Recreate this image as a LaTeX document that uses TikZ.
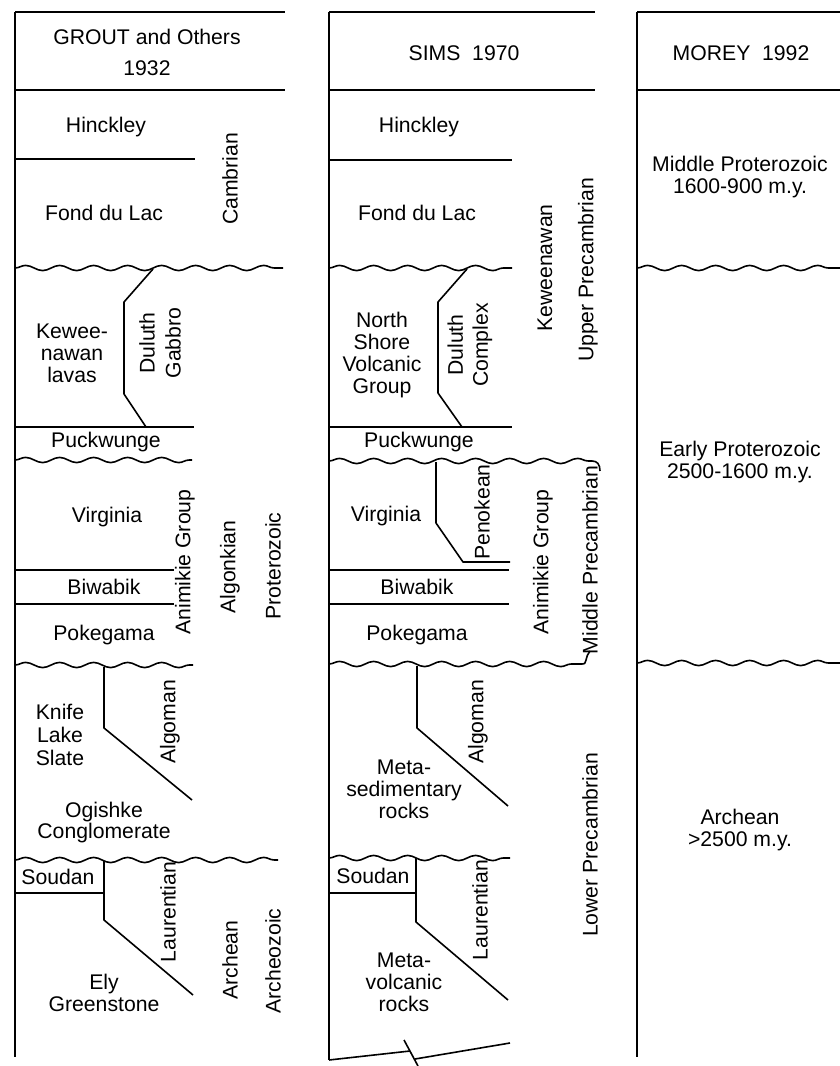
\documentclass[tikz,border=0pt]{standalone}
\usepackage{fontspec}
\setmainfont{Liberation Sans}
\usetikzlibrary{decorations.pathmorphing}
\begin{document}
\begin{tikzpicture}[x=0.5pt,y=-0.5pt,
  rule/.style={line width=0.8pt, line join=round},
  wave/.style={rule, decorate, decoration={snake, segment length=17pt, amplitude=1.3pt}},
  lbl/.style={inner sep=0pt, font=\fontsize{10.6pt}{11pt}\selectfont, align=center},
  vlbl/.style={lbl, rotate=90},
  hdr/.style={lbl, font=\fontsize{10.6pt}{15.5pt}\selectfont},
]
\useasboundingbox (0,0) rectangle (840,1066);

% ---------------- column 1 : GROUT and Others 1932
\draw[rule] (15,12) -- (285,12);
\draw[rule] (15,12) -- (15,1057);
\draw[rule] (15,90) -- (285,90);
\draw[rule] (15,159) -- (195,159);
\draw[wave] (15,268) -- (283,268);
\draw[rule] (153,269) -- (124,302) -- (124,394) -- (146,427);
\draw[rule] (15,427) -- (194,427);
\draw[wave] (15,460) -- (192,460);
\draw[rule] (15,570) -- (174,570);
\draw[rule] (15,604) -- (174,604);
\draw[wave] (15,665) -- (193,665);
\draw[rule] (104,667) -- (104,728) -- (192,800);
\draw[wave] (15,860) -- (278,860);
\draw[rule] (15,893) -- (104,893);
\draw[rule] (104,861) -- (104,920) -- (193,995);

\node[hdr] (g-hdr) at (147,52) {GROUT and Others\\1932};
\node[lbl] (g-hinckley) at (106,127) {Hinckley};
\node[lbl] (g-fond) at (104,213) {Fond du Lac};
\node[vlbl] (g-cambrian) at (230,179) {Cambrian};
\node[lbl] (g-kew) at (72,353) {Kewee-\\nawan\\lavas};
\node[vlbl, font=\fontsize{10.6pt}{13pt}\selectfont] (g-duluth) at (160,343) {Duluth\\Gabbro};
\node[lbl] (g-puck) at (106,442) {Puckwunge};
\node[lbl] (g-virginia) at (107,517) {Virginia};
\node[lbl] (g-biwabik) at (104,587) {Biwabik};
\node[lbl] (g-pokegama) at (104,635) {Pokegama};
\node[vlbl] (g-animikie) at (185,562) {Animikie Group};
\node[vlbl] (g-algonkian) at (230,567) {Algonkian};
\node[vlbl] (g-proterozoic) at (273,566) {Proterozoic};
\node[lbl, font=\fontsize{10.6pt}{11.5pt}\selectfont] (g-knife) at (60,735) {Knife\\Lake\\Slate};
\node[vlbl] (g-algoman) at (170,722) {Algoman};
\node[lbl, font=\fontsize{10.6pt}{10.5pt}\selectfont] (g-ogishke) at (104,823) {Ogishke\\Conglomerate};
\node[lbl] (g-soudan) at (58,877) {Soudan};
\node[vlbl] (g-laurentian) at (168,912) {Laurentian};
\node[lbl] (g-ely) at (104,993) {Ely\\Greenstone};
\node[vlbl] (g-archean) at (230,960) {Archean};
\node[vlbl] (g-archeozoic) at (273,961) {Archeozoic};

% ---------------- column 2 : SIMS 1970
\draw[rule] (329,12) -- (595,12);
\draw[rule] (329,12) -- (329,1060);
\draw[rule] (329,90) -- (595,90);
\draw[rule] (329,160) -- (512,160);
\draw[wave] (329,268) -- (512,268);
\draw[rule] (467,269) -- (438,302) -- (438,393) -- (462,427);
\draw[rule] (329,427) -- (512,427);
\draw[wave] (329,461) -- (592,461);
\draw[rule] (592,461) .. controls (597,461) and (600,464) .. (600,471);
\draw[rule] (436,462) -- (436,523) -- (463,562) -- (510,562);
\draw[rule] (329,570) -- (509,570);
\draw[rule] (329,604) -- (509,604);
\draw[wave] (329,664) -- (582,664);
\draw[rule] (582,664) .. controls (587,666) and (585,656) .. (590,651);
\draw[rule] (417,666) -- (417,728) -- (508,806);
\draw[wave] (329,858) -- (510,858);
\draw[rule] (329,893) -- (416,893);
\draw[rule] (416,858) -- (416,922) -- (508,1000);
\draw[rule] (329,1060) -- (410,1051);
\draw[rule] (404,1040) -- (418,1066);
\draw[rule] (415,1059) -- (510,1043);

\node[lbl] (s-hdr) at (464,53) {SIMS\ \ 1970};
\node[lbl] (s-hinckley) at (419,127) {Hinckley};
\node[lbl] (s-fond) at (417,213) {Fond du Lac};
\node[lbl] (s-north) at (382,355) {North\\Shore\\Volcanic\\Group};
\node[vlbl, font=\fontsize{10.6pt}{12.5pt}\selectfont] (s-duluth) at (470,345) {Duluth\\Complex};
\node[vlbl] (s-keweenawan) at (545,268) {Keweenawan};
\node[vlbl] (s-upper) at (588,270) {Upper Precambrian};
\node[lbl] (s-puck) at (419,442) {Puckwunge};
\node[lbl] (s-virginia) at (386,516) {Virginia};
\node[vlbl] (s-penokean) at (482,512) {Penokean};
\node[vlbl] (s-animikie) at (543,562) {Animikie Group};
\node[vlbl] (s-middle) at (590,560) {Middle Precambrian};
\node[lbl] (s-biwabik) at (417,587) {Biwabik};
\node[lbl] (s-pokegama) at (417,635) {Pokegama};
\node[vlbl] (s-algoman) at (478,722) {Algoman};
\node[lbl] (s-metased) at (404,789) {Meta-\\sedimentary\\rocks};
\node[vlbl] (s-lower) at (590,845) {Lower Precambrian};
\node[lbl] (s-soudan) at (373,876) {Soudan};
\node[vlbl] (s-laurentian) at (480,910) {Laurentian};
\node[lbl] (s-metavol) at (404,982) {Meta-\\volcanic\\rocks};

% ---------------- column 3 : MOREY 1992
\draw[rule] (637,12) -- (840,12);
\draw[rule] (637,12) -- (637,1057);
\draw[rule] (637,90) -- (840,90);
\draw[wave] (637,268) -- (840,268);
\draw[wave] (637,663) -- (840,663);

\node[lbl] (m-hdr) at (741,53) {MOREY\ \ 1992};
\node[lbl] (m-middle) at (740,177) {Middle Proterozoic\\1600-900 m.y.};
\node[lbl] (m-early) at (740,462) {Early Proterozoic\\2500-1600 m.y.};
\node[lbl] (m-archean) at (740,830) {Archean\\>2500 m.y.};
\end{tikzpicture}
\end{document}
